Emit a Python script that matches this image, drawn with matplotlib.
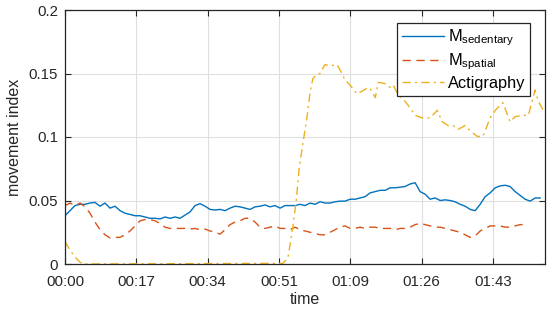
import numpy as np
import matplotlib
matplotlib.use("Agg")
import matplotlib.pyplot as plt

plt.rcParams['font.family'] = ['Liberation Sans', 'DejaVu Sans']
plt.rcParams['mathtext.fontset'] = 'custom'
plt.rcParams['mathtext.rm'] = 'Liberation Sans'
plt.rcParams['mathtext.it'] = 'Liberation Sans:italic'

# sample spacing (minutes) for the two M series
step_min = 1.2025

m_sedentary = [
    0.038, 0.042, 0.046, 0.047, 0.047, 0.048, 0.0485, 0.0455, 0.048, 0.044,
    0.0455, 0.042, 0.040, 0.039, 0.038, 0.038, 0.037, 0.036, 0.036, 0.0355,
    0.037, 0.036, 0.037, 0.036, 0.0385, 0.041, 0.046, 0.0475, 0.0455, 0.043,
    0.0425, 0.043, 0.042, 0.044, 0.0455, 0.045, 0.044, 0.043, 0.045, 0.0455,
    0.0465, 0.045, 0.046, 0.044, 0.046, 0.046, 0.046, 0.047, 0.046, 0.048,
    0.047, 0.049, 0.048, 0.048, 0.049, 0.0495, 0.0495, 0.051, 0.051, 0.052,
    0.053, 0.056, 0.057, 0.058, 0.058, 0.060, 0.060, 0.0605, 0.061, 0.063,
    0.064, 0.057, 0.055, 0.051, 0.052, 0.050, 0.0505, 0.050, 0.049, 0.047,
    0.0455, 0.043, 0.042, 0.047, 0.053, 0.056, 0.060, 0.0615, 0.062, 0.061,
    0.057, 0.054, 0.051, 0.0495, 0.052, 0.052,
]

m_spatial = [
    0.046, 0.048, 0.046, 0.048, 0.045, 0.040, 0.033, 0.027, 0.023, 0.0205,
    0.021, 0.021, 0.023, 0.026, 0.030, 0.034, 0.035, 0.035, 0.034, 0.032,
    0.029, 0.028, 0.028, 0.028, 0.028, 0.0275, 0.028, 0.027, 0.0275, 0.026,
    0.025, 0.0235, 0.027, 0.031, 0.033, 0.034, 0.036, 0.036, 0.033, 0.029,
    0.028, 0.029, 0.030, 0.028, 0.028, 0.027, 0.029, 0.027, 0.026, 0.025,
    0.024, 0.023, 0.023, 0.025, 0.027, 0.029, 0.030, 0.028, 0.028, 0.029,
    0.028, 0.029, 0.029, 0.028, 0.028, 0.028, 0.027, 0.028, 0.028, 0.029,
    0.031, 0.032, 0.031, 0.030, 0.029, 0.029, 0.028, 0.027, 0.026, 0.025,
    0.023, 0.021, 0.022, 0.026, 0.028, 0.030, 0.030, 0.030, 0.029, 0.029,
    0.030, 0.031, 0.031,
]

acti_time = [
    0.0, 1.2, 2.4, 3.6, 4.3, 52.4, 53.6, 54.6, 55.6, 56.3, 57.2, 58.2, 58.9,
    59.6, 60.6, 61.3, 62.5, 63.7, 65.4, 66.1, 67.3, 68.5, 70.2, 71.4, 72.9,
    73.4, 74.6, 75.3, 77.0, 78.2, 78.9, 80.1, 81.3, 82.5, 84.2, 85.9, 87.8,
    89.5, 90.7, 92.1, 93.3, 94.5, 96.2, 97.4, 99.1, 100.5, 102.2, 103.7,
    105.3, 107.0, 108.2, 109.9, 111.4, 113.0, 113.8, 115.0, 115.4,
]
acti_vals = [
    0.0175, 0.011, 0.0055, 0.0015, 0.0, 0.0005, 0.005, 0.025, 0.05, 0.0756,
    0.095, 0.116, 0.135, 0.146, 0.1495, 0.150, 0.157, 0.156, 0.157, 0.153,
    0.145, 0.141, 0.134, 0.136, 0.139, 0.138, 0.131, 0.143, 0.142, 0.139,
    0.141, 0.133, 0.130, 0.125, 0.117, 0.115, 0.115, 0.121, 0.112, 0.109,
    0.109, 0.106, 0.109, 0.105, 0.1005, 0.1005, 0.115, 0.122, 0.127, 0.112,
    0.116, 0.117, 0.117, 0.137, 0.128, 0.121, 0.119,
]

tick_minutes = [0, 120/7, 240/7, 360/7, 480/7, 600/7, 720/7]
tick_labels = ['00:00', '00:17', '00:34', '00:51', '01:09', '01:26', '01:43']
ytick_vals = [0, 0.05, 0.1, 0.15, 0.2]
ytick_labels = ['0', '0.05', '0.1', '0.15', '0.2']

c_blue = '#0072BD'
c_red = '#D95319'
c_yellow = '#EDB120'

t_sed = np.arange(len(m_sedentary)) * step_min
t_spa = np.arange(len(m_spatial)) * step_min

fig = plt.figure(figsize=(5.5, 3.13), dpi=100)
ax = fig.add_axes([65/550, 49/313, 480/550, 254/313])

ax.plot(t_sed, m_sedentary, color=c_blue, lw=1.0, label=r'M$_{\mathrm{sedentary}}$')
ax.plot(t_spa, m_spatial, color=c_red, lw=1.0, ls=(0, (6, 4)), label=r'M$_{\mathrm{spatial}}$')
ax.plot(acti_time, acti_vals, color=c_yellow, lw=1.0, ls=(0, (6, 3, 1.5, 3)), label='Actigraphy')

ax.set_xlim(0, 115.4)
ax.set_ylim(0, 0.2)
ax.set_xticks(tick_minutes)
ax.set_xticklabels(tick_labels)
ax.set_yticks(ytick_vals)
ax.set_yticklabels(ytick_labels)
ax.grid(True, color='#dfdfdf', lw=0.8)
ax.set_axisbelow(True)
ax.tick_params(direction='in', top=True, right=True, length=4, width=0.8,
               labelsize=10.8, colors='#262626')
ax.tick_params(axis='x', pad=8)
ax.tick_params(axis='y', pad=5)
for s in ax.spines.values():
    s.set_color('#262626')
    s.set_linewidth(0.9)
ax.set_xlabel('time', fontsize=11.5, color='#262626', labelpad=2)
ax.set_ylabel('movement index', fontsize=11.5, color='#262626', labelpad=5)

leg = ax.legend(loc='upper right', bbox_to_anchor=(0.969, 0.949), fontsize=11.8,
                frameon=True, fancybox=False, framealpha=1, edgecolor='#262626',
                handlelength=2.6, borderpad=0.3, labelspacing=0.2,
                handletextpad=0.2, borderaxespad=0)
leg.get_frame().set_linewidth(0.9)

fig.savefig('out.png', dpi=100)
